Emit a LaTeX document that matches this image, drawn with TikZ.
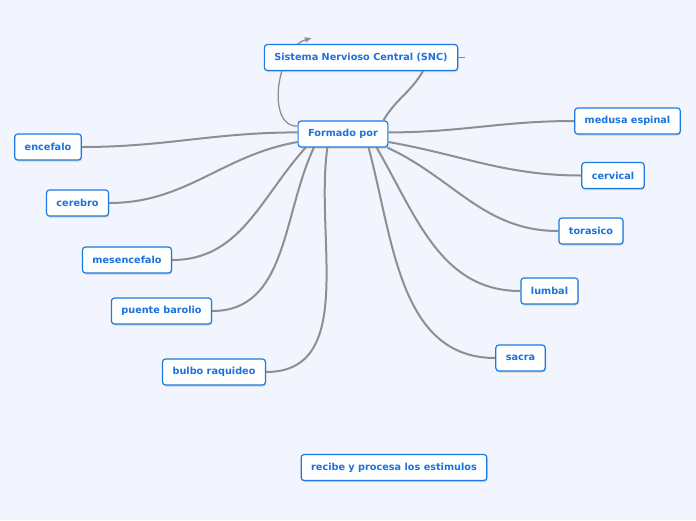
\documentclass[tikz,border=0pt]{standalone}
\usepackage{fontspec}
\usepackage{xcolor}
\newfontfamily\mapfont{DejaVu Sans}
\usetikzlibrary{shadows,arrows.meta}

\definecolor{mapbg}{HTML}{F2F5FD}
\definecolor{mapblue}{HTML}{1B7AE4}
\definecolor{maptext}{HTML}{1A72DE}
\definecolor{mapline}{HTML}{8F8F91}

\pgfdeclarelayer{paper}
\pgfdeclarelayer{links}
\pgfsetlayers{paper,links,main}

\tikzset{
  topic/.style={draw=mapblue, line width=1.2pt, fill=white, rounded corners=3pt,
    text=maptext, font=\mapfont\bfseries\fontsize{9.7}{11}\selectfont,
    inner xsep=10pt, minimum height=26pt,
    drop shadow={shadow xshift=0.8pt, shadow yshift=-1.5pt, opacity=0.3}},
  branch/.style={draw=mapline, line width=2pt},
  twig/.style={draw=mapline, line width=1.3pt}
}

\begin{document}
\begin{tikzpicture}[x=1pt,y=-1pt]
                % Paper
                \begin{pgfonlayer}{paper}
                    \fill[mapbg] (0,0) rectangle (696,520);
                \end{pgfonlayer}
                \useasboundingbox (0,0) rectangle (696,520);

                % Main topics
                \node[topic] (snc) at (361,57.5) {Sistema Nervioso Central (SNC)};
                \node[topic] (formado) at (343,134) {Formado por};
                \node[topic] (recibe) at (394,467.5) {recibe y procesa los estimulos};

                % Left side
                \node[topic] (encefalo) at (48,147) {encefalo};
                \node[topic] (cerebro) at (77.5,203) {cerebro};
                \node[topic] (mesencefalo) at (127,260) {mesencefalo};
                \node[topic] (puente) at (161.5,311) {puente barolio};
                \node[topic] (bulbo) at (214,372) {bulbo raquideo};

                % Right side
                \node[topic] (medusa) at (627.5,121) {medusa espinal};
                \node[topic] (cervical) at (613,175.5) {cervical};
                \node[topic] (torasico) at (591,231) {torasico};
                \node[topic] (lumbal) at (549.5,291) {lumbal};
                \node[topic] (sacra) at (520.5,358) {sacra};

                % Free ends
                \coordinate (looptip) at (312,38);
                \coordinate (stub) at (465,57.5);

                \begin{pgfonlayer}{links}
                    % SNC and Formado por
                    \draw[branch] ([xshift=62pt]snc.south) to[out=-120,in=60] ([xshift=-5pt]formado.north east);
                    \draw[twig, -{Latex[length=7pt,width=6pt]}] (formado.170) .. controls (266,128) and (276,48) .. (looptip);
                    \draw[twig] (snc.east) -- (stub);

                    % Left branches
                    \draw[branch] (formado.178) to[out=180,in=0] (encefalo.east);
                    \draw[branch] (formado.190) to[out=190,in=0] (cerebro.east);
                    \draw[branch] (formado.200) to[out=228,in=0] (mesencefalo.east);
                    \draw[branch] (formado.205) to[out=245,in=0] (puente.east);
                    \draw[branch] (formado.221) to[out=262,in=0] (bulbo.east);

                    % Right branches
                    \draw[branch] (formado.2) to[out=0,in=180] (medusa.west);
                    \draw[branch] (formado.350) to[out=-10,in=180] (cervical.west);
                    \draw[branch] (formado.343) to[out=-25,in=180] (torasico.west);
                    \draw[branch] (formado.338) to[out=-60,in=180] (lumbal.west);
                    \draw[branch] (formado.332) to[out=-75,in=180] (sacra.west);
                \end{pgfonlayer}
\end{tikzpicture}
\end{document}
